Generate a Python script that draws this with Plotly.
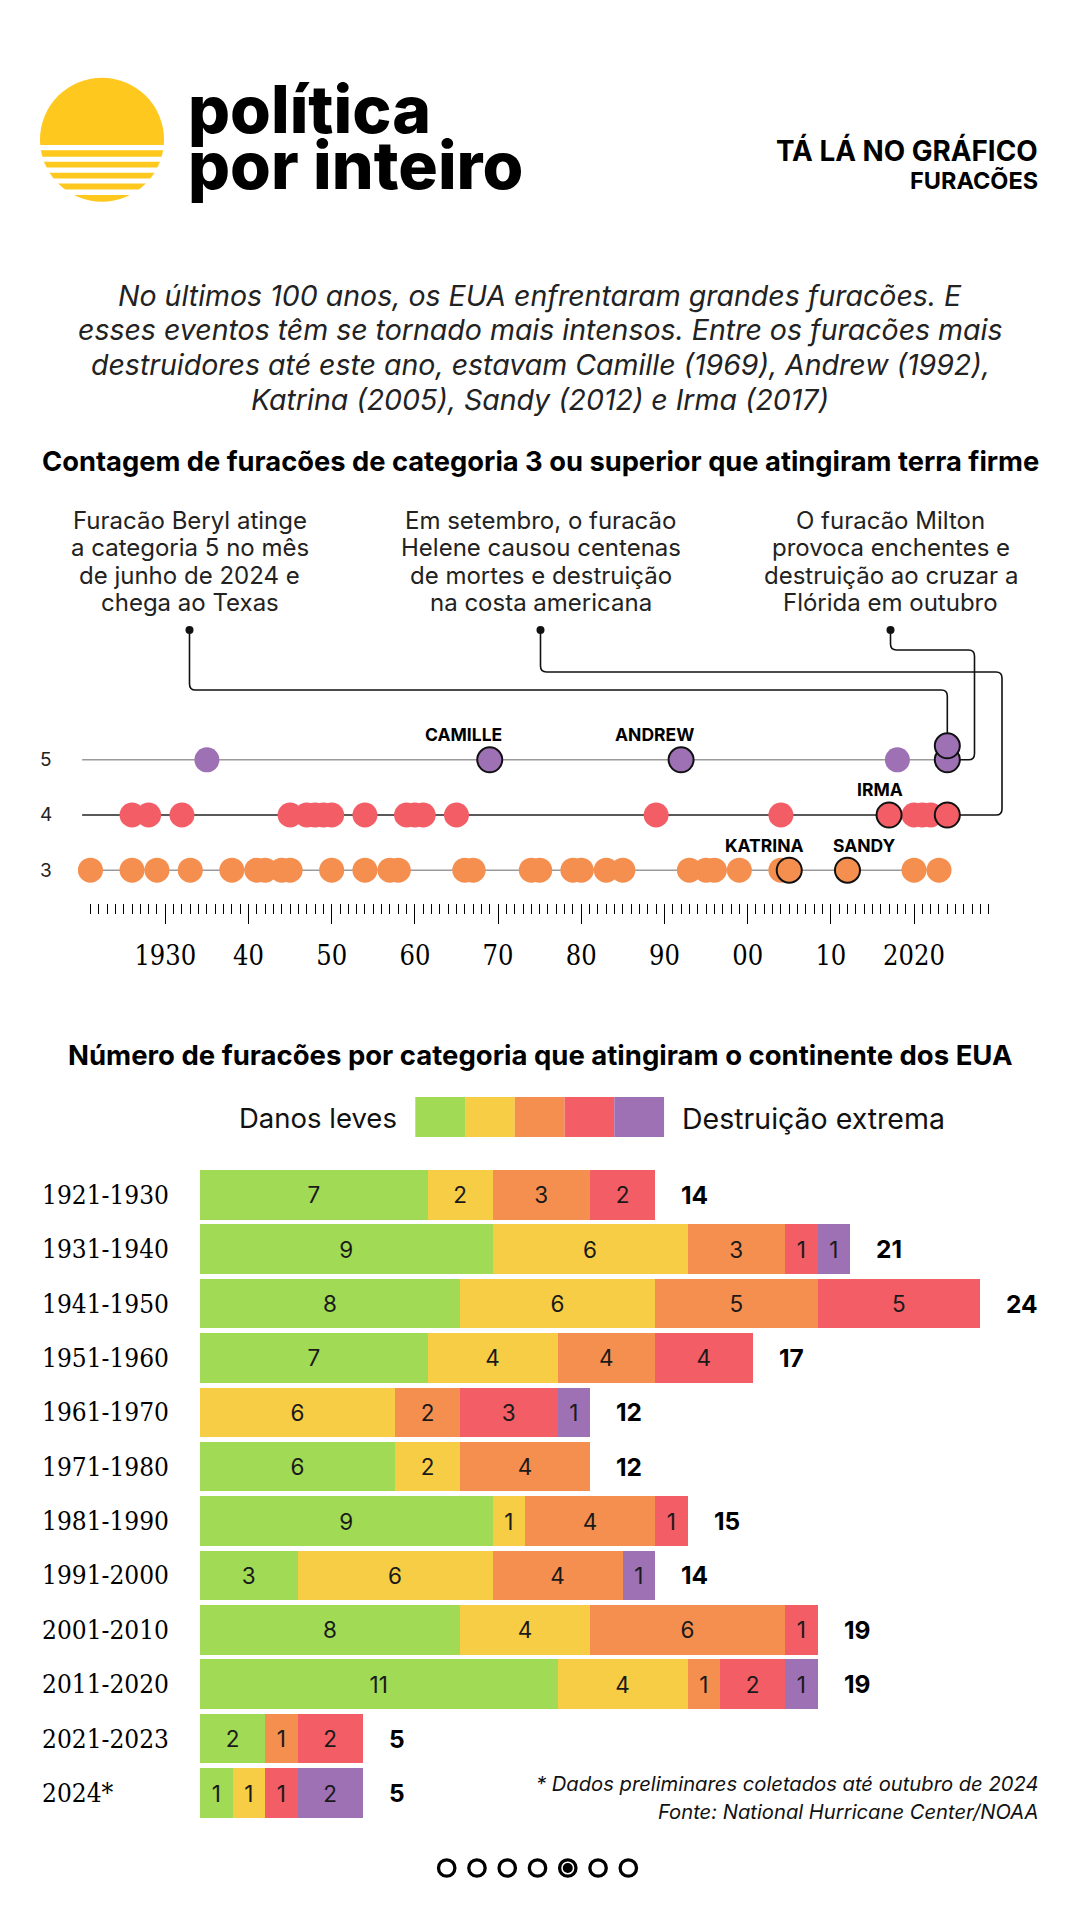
import plotly.graph_objects as go

W, H = 1080, 1920

# ---------------- data ----------------
cat5_years = [1935, 1969, 1992, 2018, 2024, 2024]
cat4_years = [1926, 1928, 1932, 1945, 1947, 1948, 1949, 1950, 1954, 1959, 1960,
              1961, 1965, 1989, 2004, 2017, 2020, 2021, 2022, 2024]
cat3_years = [1921, 1926, 1929, 1933, 1938, 1941, 1942, 1944, 1945, 1950, 1954,
              1957, 1958, 1966, 1967, 1974, 1975, 1979, 1980, 1983, 1985, 1993,
              1995, 1996, 1999, 2004, 2005, 2012, 2020, 2023]
named_storms = {"CAMILLE": (5, 1969), "ANDREW": (5, 1992), "IRMA": (4, 2017),
                "KATRINA": (3, 2005), "SANDY": (3, 2012)}
highlight_2024 = [(5, 2024), (5, 2024), (4, 2024)]
axis_major_years = [1930, 1940, 1950, 1960, 1970, 1980, 1990, 2000, 2010, 2020]
axis_tick_text = ["1930", "40", "50", "60", "70", "80", "90", "00", "10", "2020"]
axis_first_year, axis_last_year = 1921, 2029

decades = ["1921-1930", "1931-1940", "1941-1950", "1951-1960", "1961-1970",
           "1971-1980", "1981-1990", "1991-2000", "2001-2010", "2011-2020",
           "2021-2023", "2024*"]
cat1 = [7, 9, 8, 7, 0, 6, 9, 3, 8, 11, 2, 1]
cat2 = [2, 6, 6, 4, 6, 2, 1, 6, 4, 4, 0, 1]
cat3 = [3, 3, 5, 3, 2, 4, 4, 4, 6, 1, 1, 0]
cat4 = [2, 1, 5, 3, 3, 0, 1, 0, 1, 2, 2, 1]
cat5 = [0, 1, 0, 0, 1, 0, 0, 1, 0, 1, 0, 2]
printed_label_overrides = {("1951-1960", 3): "4", ("1951-1960", 4): "4"}
totals_printed = [14, 21, 24, 17, 12, 12, 15, 14, 19, 19, 5, 5]

intro_lines = [
    "No últimos 100 anos, os EUA enfrentaram grandes furacões. E",
    "esses eventos têm se tornado mais intensos. Entre os furacões mais",
    "destruidores até este ano, estavam Camille (1969), Andrew (1992),",
    "Katrina (2005), Sandy (2012) e Irma (2017)",
]
notes = [
    ["Furacão Beryl atinge", "a categoria 5 no mês", "de junho de 2024 e", "chega ao Texas"],
    ["Em setembro, o furacão", "Helene causou centenas", "de mortes e destruição", "na costa americana"],
    ["O furacão Milton", "provoca enchentes e", "destruição ao cruzar a", "Flórida em outubro"],
]

# ---------------- style ----------------
GREEN, YELLOW, ORANGE, RED, PURPLE = "#A1DA55", "#F7CD45", "#F58F4F", "#F25D66", "#9E70B4"
SUN = "#FEC81E"
INK = "#111111"
SANS = "Inter"
SERIF = "DejaVu Serif Condensed, DejaVu Serif"

def px(x):
    return x / W

def py(y):
    return 1 - y / H

# dot-chart axis geometry (pixels)
XR = [1910.13, 2039.95]
YR = [2.4112, 6.0833]
DOT_TOP, DOT_BOTTOM = 700, 902.7

def xpix(year):
    return (year - XR[0]) / (XR[1] - XR[0]) * W

def ypix(cat):
    return DOT_BOTTOM - (cat - YR[0]) / (YR[1] - YR[0]) * (DOT_BOTTOM - DOT_TOP)

fig = go.Figure()
shapes, ann = [], []

def txt(x, y, s, size, weight=400, color=INK, xanchor="center", family=SANS,
        style="normal", yanchor="middle"):
    ann.append(dict(x=px(x), y=py(y), xref="paper", yref="paper", text=s,
                    showarrow=False, xanchor=xanchor, yanchor=yanchor,
                    font=dict(family=family, size=size, color=color,
                              weight=weight, style=style)))

# ---------------- header ----------------
shapes.append(dict(type="circle", xref="paper", yref="paper", x0=px(40), x1=px(164),
                   y0=py(201.7), y1=py(77.7), fillcolor=SUN, line_width=0, layer="above"))
for a, b in [(145, 150.3), (156.7, 161.7), (167.4, 172.7), (178.4, 183.4), (189.4, 195)]:
    shapes.append(dict(type="rect", xref="paper", yref="paper", x0=px(30), x1=px(175),
                       y0=py(b), y1=py(a), fillcolor="white", line_width=0, layer="above"))
txt(186, 109, "política", 66, 800, "#000", "left")
txt(186, 165, "por inteiro", 66, 800, "#000", "left")
txt(1040, 150, "TÁ LÁ NO GRÁFICO", 27.8, 700, "#000", "right")
txt(1040, 181, "FURACÕES", 23.5, 700, "#000", "right")

for i, line in enumerate(intro_lines):
    txt(540, 295 + i * 34.7, line, 28.5, 400, "#222", style="italic")

# ---------------- section 1 ----------------
txt(540, 462, "Contagem de furacões de categoria 3 ou superior que atingiram terra firme", 27.3, 700, "#000")

note_x = [189.5, 540.5, 890.5]
for nx, lines in zip(note_x, notes):
    for j, line in enumerate(lines):
        txt(nx, 520.5 + j * 27.3, line, 24, 400, "#222")
    shapes.append(dict(type="circle", xref="paper", yref="paper", x0=px(nx - 4), x1=px(nx + 4),
                       y0=py(634), y1=py(626), fillcolor=INK, line_width=0))

# category guide lines
line_start = min(cat3_years + cat4_years + cat5_years) - 1
line_end = max(cat3_years + cat4_years + cat5_years)
for c, col in [(5, "#9a9a9a"), (4, "#222222"), (3, "#9a9a9a")]:
    fig.add_trace(go.Scatter(x=[line_start, line_end], y=[c, c], mode="lines",
                             line=dict(color=col, width=1.5), hoverinfo="skip",
                             xaxis="x", yaxis="y", showlegend=False))
    txt(46, ypix(c), str(c), 19, 400, "#222")

outlined = set(named_storms.values()) | set(highlight_2024)
for c, years, col in [(3, cat3_years, ORANGE), (4, cat4_years, RED), (5, cat5_years, PURPLE)]:
    seen = {}
    plain_x, plain_y, hi_x, hi_y = [], [], [], []
    for yv in years:
        k = seen.get(yv, 0)
        seen[yv] = k + 1
        yy = c + 0.254 * k
        if (c, yv) in outlined:
            hi_x.append(yv); hi_y.append(yy)
        else:
            plain_x.append(yv); plain_y.append(yy)
    fig.add_trace(go.Scatter(x=plain_x, y=plain_y, mode="markers",
                             marker=dict(size=25, color=col, line=dict(width=0)),
                             xaxis="x", yaxis="y", showlegend=False, hoverinfo="x"))
    order = sorted(range(len(hi_x)), key=lambda i: hi_y[i])
    fig.add_trace(go.Scatter(x=[hi_x[i] for i in order], y=[hi_y[i] for i in order], mode="markers",
                             marker=dict(size=25, color=col, line=dict(width=2, color=INK)),
                             xaxis="x", yaxis="y", showlegend=False, hoverinfo="x"))

name_shift = {"CAMILLE": -26, "ANDREW": -27, "IRMA": -9, "KATRINA": -25, "SANDY": 17}
for name, (c, yv) in named_storms.items():
    ann.append(dict(x=yv, y=c, xref="x", yref="y", text=name, showarrow=False,
                    xshift=name_shift[name], yshift=25,
                    font=dict(family=SANS, size=17.5, color="#000", weight=700)))

# leader lines (rounded elbows)
r = 6
x24 = xpix(2024)
y5, y5b, y4 = ypix(5), ypix(5 + 0.254), ypix(4)
def P(x, y):
    return f"{px(x):.5f},{py(y):.5f}"
beryl = (f"M{P(189.5, 630)} L{P(189.5, 690 - r)} Q{P(189.5, 690)} {P(189.5 + r, 690)} "
         f"L{P(x24 - r, 690)} Q{P(x24, 690)} {P(x24, 690 + r)} L{P(x24, y5b - 12.5)}")
milton = (f"M{P(890.5, 630)} L{P(890.5, 650 - r)} Q{P(890.5, 650)} {P(890.5 + r, 650)} "
          f"L{P(974.5 - r, 650)} Q{P(974.5, 650)} {P(974.5, 650 + r)} L{P(974.5, y5 - r)} "
          f"Q{P(974.5, y5)} {P(974.5 - r, y5)} L{P(x24 + 12.5, y5)}")
helene = (f"M{P(540.5, 630)} L{P(540.5, 672 - r)} Q{P(540.5, 672)} {P(540.5 + r, 672)} "
          f"L{P(1002 - r, 672)} Q{P(1002, 672)} {P(1002, 672 + r)} L{P(1002, y4 - r)} "
          f"Q{P(1002, y4)} {P(1002 - r, y4)} L{P(x24 + 12.5, y4)}")
for pth in [beryl, milton, helene]:
    shapes.append(dict(type="path", xref="paper", yref="paper", path=pth,
                       line=dict(color=INK, width=1.6), layer="below"))

# ---------------- section 2 ----------------
txt(540, 1055, "Número de furacões por categoria que atingiram o continente dos EUA", 27.5, 700, "#000")
for i, col in enumerate([GREEN, YELLOW, ORANGE, RED, PURPLE]):
    x0 = 415.3 + i * 49.75
    shapes.append(dict(type="rect", xref="paper", yref="paper", x0=px(x0), x1=px(x0 + 49.75),
                       y0=py(1137), y1=py(1097), fillcolor=col, line_width=0))
txt(399, 1118, "Danos leves", 27.5, 400, "#111", "right")
txt(680, 1118, "Destruição extrema", 28.5, 400, "#111", "left")

series = [cat1, cat2, cat3, cat4, cat5]
for k, (vals, col) in enumerate(zip(series, [GREEN, YELLOW, ORANGE, RED, PURPLE]), start=1):
    labels = []
    for d, v in zip(decades, vals):
        labels.append(printed_label_overrides.get((d, k), str(v)) if v > 0 else "")
    fig.add_trace(go.Bar(x=vals, y=decades, orientation="h", marker=dict(color=col, line=dict(width=0)),
                         text=labels, texttemplate="%{text}", textposition="inside",
                         insidetextanchor="middle", textangle=0, constraintext="none",
                         textfont=dict(family=SANS, size=22.5, color="#1a1a1a"),
                         xaxis="x2", yaxis="y2", showlegend=False, hoverinfo="x+y"))

for i, d in enumerate(decades):
    end = sum(s[i] for s in series)
    ann.append(dict(x=end, y=d, xref="x2", yref="y2", text=str(totals_printed[i]), showarrow=False,
                    xanchor="left", xshift=24, font=dict(family=SANS, size=24.5, color="#000", weight=700)))
    ann.append(dict(x=px(40), y=d, xref="paper", yref="y2", text=d, showarrow=False, xanchor="left",
                    font=dict(family=SERIF, size=26, color="#000")))

txt(1040, 1783, "* Dados preliminares coletados até outubro de 2024", 20.2, 400, "#111", "right", style="italic")
txt(1040, 1811, "Fonte: National Hurricane Center/NOAA", 20.2, 400, "#111", "right", style="italic")

# pagination
for i in range(7):
    cx = 446.7 + i * 30.27
    shapes.append(dict(type="circle", xref="paper", yref="paper", x0=px(cx - 8.2), x1=px(cx + 8.2),
                       y0=py(1868 + 8.2), y1=py(1868 - 8.2), fillcolor="white",
                       line=dict(color="#000", width=3.3)))
    if i == 4:
        shapes.append(dict(type="circle", xref="paper", yref="paper", x0=px(cx - 5), x1=px(cx + 5),
                           y0=py(1868 + 5), y1=py(1868 - 5), fillcolor="#000", line_width=0))

BAR_UNIT = 32.5
fig.update_layout(
    width=W, height=H, margin=dict(l=0, r=0, t=0, b=0),
    paper_bgcolor="white", plot_bgcolor="rgba(0,0,0,0)",
    barmode="stack", bargap=0.09, showlegend=False,
    shapes=shapes, annotations=ann,
    xaxis=dict(domain=[0, 1], range=XR, anchor="y", showgrid=False, zeroline=False,
               showline=False, tickmode="array", tickvals=axis_major_years, ticktext=axis_tick_text,
               ticks="outside", ticklen=20, tickwidth=1, tickcolor="#000", ticklabelstandoff=9,
               tickfont=dict(family=SERIF, size=27, color="#000"),
               minor=dict(tickmode="array", tickvals=list(range(axis_first_year, axis_last_year + 1)),
                          ticks="outside", ticklen=10, tickwidth=1, tickcolor="#000")),
    yaxis=dict(domain=[py(DOT_BOTTOM), py(DOT_TOP)], range=YR, visible=False),
    xaxis2=dict(domain=[0, 1], range=[-200 / BAR_UNIT, 880 / BAR_UNIT], anchor="y2", visible=False),
    yaxis2=dict(domain=[py(1820.2), py(1167.6)], type="category", range=[11.5, -0.5],
                anchor="x2", visible=False),
)

fig.write_html("out.html", config={"displayModeBar": False},
               post_script="document.body.style.margin='0px';")
